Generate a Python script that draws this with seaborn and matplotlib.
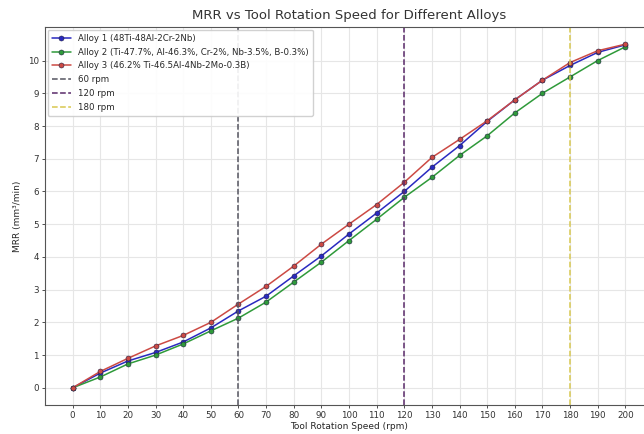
import numpy as np
import pandas as pd
import matplotlib
matplotlib.use("Agg")
import matplotlib.pyplot as plt
import seaborn as sns

speeds = [0, 10, 20, 30, 40, 50, 60, 70, 80, 90, 100, 110, 120, 130, 140, 150, 160, 170, 180, 190, 200]
alloy1 = [0.0, 0.45, 0.82, 1.08, 1.40, 1.83, 2.35, 2.80, 3.42, 4.03, 4.70, 5.34, 6.00, 6.74, 7.40, 8.14, 8.80, 9.40, 9.85, 10.25, 10.48]
alloy2 = [0.0, 0.33, 0.73, 1.00, 1.34, 1.74, 2.13, 2.62, 3.23, 3.84, 4.50, 5.15, 5.82, 6.43, 7.10, 7.70, 8.40, 9.00, 9.50, 10.00, 10.42]
alloy3 = [0.0, 0.50, 0.90, 1.28, 1.60, 2.00, 2.56, 3.10, 3.72, 4.39, 5.00, 5.60, 6.28, 7.04, 7.59, 8.16, 8.80, 9.40, 9.94, 10.30, 10.50]
names = ["Alloy 1 (48Ti-48Al-2Cr-2Nb)",
         "Alloy 2 (Ti-47.7%, Al-46.3%, Cr-2%, Nb-3.5%, B-0.3%)",
         "Alloy 3 (46.2% Ti-46.5Al-4Nb-2Mo-0.3B)"]
ref_speeds = [60, 120, 180]
ref_labels = ["60 rpm", "120 rpm", "180 rpm"]

sns.set_style("ticks")
plt.rcParams['font.family'] = ['DejaVu Sans']

df = pd.DataFrame({
    "speed": speeds * 3,
    "mrr": alloy1 + alloy2 + alloy3,
    "alloy": [names[0]] * len(speeds) + [names[1]] * len(speeds) + [names[2]] * len(speeds),
})

fig = plt.figure(figsize=(6.44, 4.34), dpi=100)
ax = fig.add_axes([45 / 644, 29 / 434, 608 / 644, 378 / 434])

palette = {names[0]: "#2a2ac0", names[1]: "#2f9a3a", names[2]: "#cc4a44"}
sns.lineplot(data=df, x="speed", y="mrr", hue="alloy", palette=palette, marker="o",
             markersize=3.6, linewidth=1.1, markeredgecolor="#222244", markeredgewidth=0.4,
             ax=ax, legend=True)

ref_colors = ["#555560", "#5a2a6a", "#d8c850"]
for s, lab, c in zip(ref_speeds, ref_labels, ref_colors):
    ax.axvline(s, color=c, linestyle="--", linewidth=1.1, label=lab)

ax.set_xlim(-10, 210)
ax.set_ylim(-0.525, 11.025)
ax.set_xticks(speeds)
ax.set_yticks(range(0, 11))
ax.tick_params(labelsize=6.3, length=2.5, width=0.6, colors="#333333", pad=2)
ax.grid(True, color="#e6e6e6", linewidth=0.8)
for sp in ax.spines.values():
    sp.set_color("#555555")
    sp.set_linewidth(0.8)

ax.set_xlabel("Tool Rotation Speed (rpm)", fontsize=6.5, labelpad=1)
ax.set_ylabel("MRR (mm³/min)", fontsize=6.5, labelpad=4)
ax.set_title("MRR vs Tool Rotation Speed for Different Alloys", fontsize=9.5, color="#333333", pad=6)

handles, labels = ax.get_legend_handles_labels()
ax.legend(handles, labels, loc="upper left", fontsize=6.2, frameon=True, framealpha=0.9,
          borderpad=0.5, labelspacing=0.55, handlelength=2.2, borderaxespad=0.3)

fig.savefig("out.png", dpi=100)
